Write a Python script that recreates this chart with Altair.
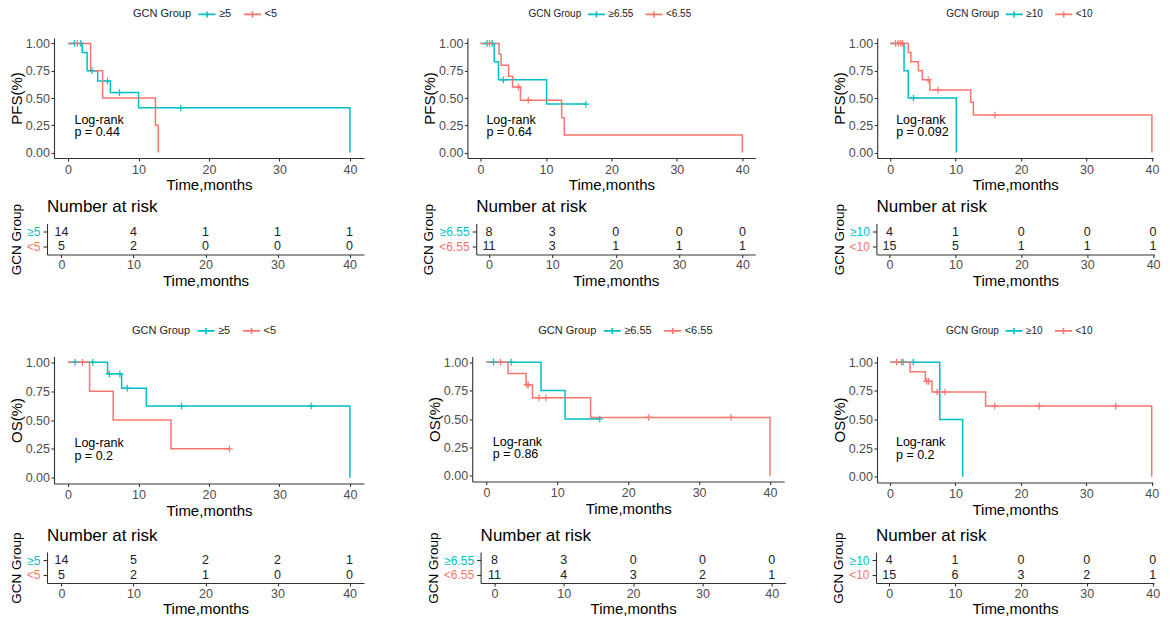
import altair as alt
import pandas as pd

TEAL = "#00BFC4"
SALMON = "#F8766D"
FONT = "Liberation Sans"
CROSS = "M-1,0H1M0,-1V1"
LEG_SYM = "M-1.7,0H1.7M0,-0.6V0.6"

ticks_x = [0, 10, 20, 30, 40]
ticks_y = [0, 0.25, 0.5, 0.75, 1.0]
risk_times = [0, 10, 20, 30, 40]
x_dom_full = [-2, 42]
x_dom_cut = [-2, 40.2]   # right-hand panels are cropped just after 40 months

# ---------------- PFS, cut-off 5 ----------------
pfs5_hi_t = [0, 2.0, 2.7, 4.2, 6.0, 10.0, 40.0]
pfs5_hi_s = [1.0, 0.917, 0.75, 0.655, 0.55, 0.41, 0.0]
pfs5_hic_t = [0.9, 1.8, 3.4, 5.6, 7.3, 16.0]
pfs5_hic_s = [1.0, 1.0, 0.75, 0.655, 0.55, 0.41]
pfs5_lo_t = [0, 3.2, 4.9, 12.4, 12.8]
pfs5_lo_s = [1.0, 0.75, 0.5, 0.25, 0.0]
pfs5_loc_t = [1.3]
pfs5_loc_s = [1.0]
pfs5_risk_hi = [14, 4, 1, 1, 1]
pfs5_risk_lo = [5, 2, 0, 0, 0]

# ---------------- PFS, cut-off 6.55 ----------------
pfs655_hi_t = [0, 2.1, 2.75, 10.1, 16.1]
pfs655_hi_s = [1.0, 0.833, 0.667, 0.444, 0.444]
pfs655_hic_t = [1.0, 1.8, 3.5, 16.1]
pfs655_hic_s = [1.0, 1.0, 0.667, 0.444]
pfs655_lo_t = [0, 2.85, 3.15, 4.3, 4.9, 6.1, 12.4, 12.8, 40.0]
pfs655_lo_s = [1.0, 0.9, 0.8, 0.7, 0.6, 0.48, 0.32, 0.16, 0.0]
pfs655_loc_t = [1.4, 5.8, 7.3]
pfs655_loc_s = [1.0, 0.6, 0.48]
pfs655_risk_hi = [8, 3, 0, 0, 0]
pfs655_risk_lo = [11, 3, 1, 1, 1]

# ---------------- PFS, cut-off 10 ----------------
pfs10_hi_t = [0, 2.1, 2.75, 10.1]
pfs10_hi_s = [1.0, 0.75, 0.5, 0.0]
pfs10_hic_t = [3.55]
pfs10_hic_s = [0.5]
pfs10_lo_t = [0, 2.75, 3.15, 4.3, 4.9, 6.05, 12.3, 12.7, 40.0]
pfs10_lo_s = [1.0, 0.917, 0.833, 0.75, 0.667, 0.573, 0.46, 0.344, 0.0]
pfs10_loc_t = [0.8, 1.2, 1.6, 1.9, 5.8, 7.3, 16.0]
pfs10_loc_s = [1.0, 1.0, 1.0, 1.0, 0.667, 0.573, 0.344]
pfs10_risk_hi = [4, 1, 0, 0, 0]
pfs10_risk_lo = [15, 5, 1, 1, 1]

# ---------------- OS, cut-off 5 ----------------
os5_hi_t = [0, 5.6, 7.6, 11.1, 40.0]
os5_hi_s = [1.0, 0.9, 0.776, 0.622, 0.0]
os5_hic_t = [1.0, 3.5, 5.85, 7.35, 8.4, 16.1, 34.5]
os5_hic_s = [1.0, 1.0, 0.9, 0.9, 0.776, 0.622, 0.622]
os5_lo_t = [0, 3.05, 6.4, 14.6, 22.9]
os5_lo_s = [1.0, 0.75, 0.5, 0.25, 0.25]
os5_loc_t = [2.05, 22.9]
os5_loc_s = [1.0, 0.25]
os5_risk_hi = [14, 5, 2, 2, 1]
os5_risk_lo = [5, 2, 1, 0, 0]

# ---------------- OS, cut-off 6.55 ----------------
os655_hi_t = [0, 7.7, 11.1, 16.0]
os655_hi_s = [1.0, 0.75, 0.5, 0.5]
os655_hic_t = [1.0, 3.5, 16.0]
os655_hic_s = [1.0, 1.0, 0.5]
os655_lo_t = [0, 3.05, 5.6, 6.5, 14.7, 40.0]
os655_lo_s = [1.0, 0.9, 0.8, 0.686, 0.514, 0.0]
os655_loc_t = [2.0, 5.7, 5.9, 7.4, 8.4, 22.9, 34.5]
os655_loc_s = [1.0, 0.8, 0.8, 0.686, 0.686, 0.514, 0.514]
os655_risk_hi = [8, 3, 0, 0, 0]
os655_risk_lo = [11, 4, 3, 2, 1]

# ---------------- OS, cut-off 10 ----------------
os10_hi_t = [0, 7.6, 11.1]
os10_hi_s = [1.0, 0.5, 0.0]
os10_hic_t = [2.0, 3.55]
os10_hic_s = [1.0, 1.0]
os10_lo_t = [0, 3.05, 5.4, 6.4, 14.6, 40.0]
os10_lo_s = [1.0, 0.917, 0.833, 0.74, 0.617, 0.0]
os10_loc_t = [1.0, 1.75, 5.6, 5.9, 7.2, 8.4, 16.0, 22.8, 34.5]
os10_loc_s = [1.0, 1.0, 0.833, 0.833, 0.74, 0.74, 0.617, 0.617, 0.617]
os10_risk_hi = [4, 1, 0, 0, 0]
os10_risk_lo = [15, 6, 3, 2, 1]

pvals = {"pfs5": "0.44", "pfs655": "0.64", "pfs10": "0.092",
         "os5": "0.2", "os655": "0.86", "os10": "0.2"}
logrank_pos = [0.9, 0.30]  # data coords (time, survival) of the annotation


def km(ytitle, hi, lo, hi_t, hi_s, lo_t, lo_s, hic_t, hic_s, loc_t, loc_s,
       pval, w, h, lx, ly, lfs, xdom):
    line_df = pd.DataFrame({"t": hi_t + lo_t, "s": hi_s + lo_s,
                            "g": [hi] * len(hi_t) + [lo] * len(lo_t)})
    cens_df = pd.DataFrame({"t": hic_t + loc_t, "s": hic_s + loc_s,
                            "g": [hi] * len(hic_t) + [lo] * len(loc_t)})
    txt_df = pd.DataFrame({"t": [logrank_pos[0]], "s": [logrank_pos[1]],
                           "label": ["Log-rank\np = " + pval]})
    x = alt.X("t:Q", scale=alt.Scale(domain=xdom, nice=False, zero=False),
              axis=alt.Axis(values=ticks_x, title="Time,months", labelPadding=2,
                            titlePadding=2))
    y = alt.Y("s:Q", scale=alt.Scale(domain=[-0.05, 1.05], nice=False, zero=False),
              axis=alt.Axis(values=ticks_y, format=".2f", title=ytitle,
                            labelPadding=1.5, titlePadding=1))
    color = alt.Color("g:N", scale=alt.Scale(domain=[hi, lo], range=[TEAL, SALMON]),
                      legend=alt.Legend(title="GCN Group", orient="none",
                                        legendX=lx, legendY=ly, padding=0,
                                        direction="horizontal", titleOrient="left",
                                        symbolType=LEG_SYM,
                                        symbolSize=100, symbolStrokeWidth=1.6,
                                        labelFontSize=lfs, titleFontSize=lfs,
                                        titleFontWeight="normal", titleColor="#222",
                                        labelColor="#222", columnPadding=8.5,
                                        labelOffset=6, titlePadding=9,
                                        labelFont=FONT, titleFont=FONT))
    lines = alt.Chart(line_df).mark_line(interpolate="step-after", strokeWidth=1.5).encode(
        x=x, y=y, color=color)
    pts = alt.Chart(cens_df).mark_point(shape=CROSS, size=45, filled=False,
                                        strokeWidth=1.2, opacity=1).encode(
        x=x, y=y, color=color)
    txt = alt.Chart(txt_df).mark_text(align="left", baseline="middle", lineBreak="\n",
                                      fontSize=12.5, lineHeight=12.5, font=FONT,
                                      color="black").encode(x=x, y=y, text="label:N")
    return alt.layer(lines, pts, txt).properties(width=w, height=h)


def risk(hi, lo, n_hi, n_lo, w, xdom, h=31):
    df = pd.DataFrame({"t": risk_times + risk_times,
                       "g": [hi] * 5 + [lo] * 5,
                       "n": n_hi + n_lo})
    return alt.Chart(df, title=alt.TitleParams(
        "Number at risk", anchor="start", frame="group", fontSize=17,
        fontWeight="normal", font=FONT, color="black", offset=-13)).mark_text(
        fontSize=12.5, color="#222", font=FONT).encode(
        x=alt.X("t:Q", scale=alt.Scale(domain=xdom, nice=False, zero=False),
                axis=alt.Axis(values=ticks_x, title="Time,months", labelPadding=1,
                              titlePadding=2)),
        y=alt.Y("g:N", sort=[hi, lo], scale=alt.Scale(domain=[hi, lo], padding=0.55),
                axis=alt.Axis(title="GCN Group", labelPadding=3, titlePadding=3,
                              tickSize=4, labelFontSize=12, titleFontSize=13.5,
                              labelColor={"condition": {"test": "datum.value === '" + hi + "'",
                                                        "value": TEAL},
                                          "value": SALMON})),
        text="n:Q").properties(width=w, height=h)


def spacer():
    # empty 1px view that pins the left edge of each row
    return alt.Chart(pd.DataFrame({"v": [0]})).mark_text(text="", opacity=0).encode(
        x=alt.value(0), y=alt.value(0)).properties(width=1, height=1)


def hrow(a, b, c, s1, s2):
    first = alt.hconcat(spacer(), a, spacing=0).resolve_scale(color="independent")
    inner = alt.hconcat(first, b, spacing=s1).resolve_scale(color="independent")
    return alt.hconcat(inner, c, spacing=s2).resolve_scale(color="independent")


k11 = km("PFS(%)", "≥5", "<5", pfs5_hi_t, pfs5_hi_s, pfs5_lo_t, pfs5_lo_s,
         pfs5_hic_t, pfs5_hic_s, pfs5_loc_t, pfs5_loc_s, pvals["pfs5"],
         310, 120, 79, -30, 11, x_dom_full)
k12 = km("PFS(%)", "≥6.55", "<6.55", pfs655_hi_t, pfs655_hi_s, pfs655_lo_t, pfs655_lo_s,
         pfs655_hic_t, pfs655_hic_s, pfs655_loc_t, pfs655_loc_s, pvals["pfs655"],
         288, 120, 61, -30, 10, x_dom_full)
k13 = km("PFS(%)", "≥10", "<10", pfs10_hi_t, pfs10_hi_s, pfs10_lo_t, pfs10_lo_s,
         pfs10_hic_t, pfs10_hic_s, pfs10_loc_t, pfs10_loc_s, pvals["pfs10"],
         276, 120, 69, -30, 10, x_dom_cut)
r11 = risk("≥5", "<5", pfs5_risk_hi, pfs5_risk_lo, 317, x_dom_full)
r12 = risk("≥6.55", "<6.55", pfs655_risk_hi, pfs655_risk_lo, 279, x_dom_full)
r13 = risk("≥10", "<10", pfs10_risk_hi, pfs10_risk_lo, 278, x_dom_cut)

k21 = km("OS(%)", "≥5", "<5", os5_hi_t, os5_hi_s, os5_lo_t, os5_lo_s,
         os5_hic_t, os5_hic_s, os5_loc_t, os5_loc_s, pvals["os5"],
         310, 127, 78, -32, 11, x_dom_full)
k22 = km("OS(%)", "≥6.55", "<6.55", os655_hi_t, os655_hi_s, os655_lo_t, os655_lo_s,
         os655_hic_t, os655_hic_s, os655_loc_t, os655_loc_s, pvals["os655"],
         312, 125, 66, -32, 11, x_dom_full)
k23 = km("OS(%)", "≥10", "<10", os10_hi_t, os10_hi_s, os10_lo_t, os10_lo_s,
         os10_hic_t, os10_hic_s, os10_loc_t, os10_loc_s, pvals["os10"],
         276, 126, 69, -32, 10, x_dom_cut)
r21 = risk("≥5", "<5", os5_risk_hi, os5_risk_lo, 317, x_dom_full)
r22 = risk("≥6.55", "<6.55", os655_risk_hi, os655_risk_lo, 305, x_dom_full)
r23 = risk("≥10", "<10", os10_risk_hi, os10_risk_lo, 278, x_dom_cut)

km_row1 = hrow(k11, k12, k13, 58.4, 76.2)
risk_row1 = hrow(r11, r12, r13, 57.2, 75.4)
km_row2 = hrow(k21, k22, k23, 63.2, 47)
risk_row2 = hrow(r21, r22, r23, 61.6, 45)

block1 = alt.vconcat(km_row1, risk_row1, spacing=4.5).resolve_scale(color="independent")
block2 = alt.vconcat(km_row2, risk_row2, spacing=7.5).resolve_scale(color="independent")

chart = alt.vconcat(block1, block2, spacing=36.5).resolve_scale(color="independent").properties(
    padding=0, background="white"
).configure_view(stroke=None).configure_axis(
    grid=False, domainColor="#333", tickColor="#333", domainWidth=1.1, tickWidth=1.1,
    tickSize=3, labelFont=FONT, titleFont=FONT, labelColor="#4d4d4d",
    titleColor="black", titleFontWeight="normal", labelFontSize=12.5, titleFontSize=15
)

chart.save("out.html", embed_options={"renderer": "svg", "actions": False})
